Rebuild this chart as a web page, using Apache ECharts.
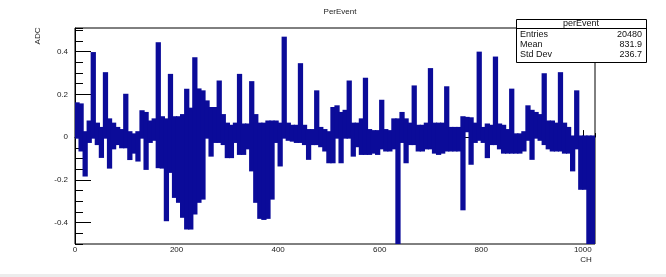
<!DOCTYPE html>
<html>
<head>
<meta charset="utf-8">
<script src="https://cdn.jsdelivr.net/npm/echarts@6/dist/echarts.min.js"></script>
<style>
html,body{margin:0;padding:0;background:#fff;}
#main{width:666px;height:277px;}
</style>
</head>
<body>
<div id="main"></div>
<script>
// histogram, grouped in bins of 8 CH (low / high edge of the drawn band)
var binWidth = 8;
var hiVals = [
	0.155, 0.15, 0.02, 0.07, 0.39, 0.06, 0.04, 0.296, 0.08, 0.06, 0.04, 0.03, 0.195, 0.02, 0.01, 0.02,
	0.118, 0.11, 0.07, 0.08, 0.436, 0.09, 0.08, 0.288, 0.09, 0.09, 0.1, 0.219, 0.13, 0.366, 0.22, 0.211,
	0.164, 0.133, 0.133, 0.257, 0.1, 0.06, 0.05, 0.06, 0.288, 0.056, 0.056, 0.254, 0.1, 0.06, 0.06, 0.07,
	0.07, 0.07, 0.06, 0.462, 0.06, 0.05, 0.05, 0.338, 0.05, 0.03, 0.03, 0.211, 0.04, 0.03, 0.02, 0.133,
	0.141, 0.11, 0.12, 0.257, 0.06, 0.06, 0.08, 0.27, 0.03, 0.025, 0.025, 0.167, 0.03, 0.025, 0.08, 0.08,
	0.11, 0.08, 0.06, 0.234, 0.05, 0.05, 0.06, 0.315, 0.06, 0.06, 0.06, 0.23, 0.04, 0.04, 0.04, 0.09,
	0.087, 0.085, 0.06, 0.392, 0.04, 0.056, 0.05, 0.369, 0.056, 0.05, 0.03, 0.219, 0.01, 0.01, 0.02, 0.141,
	0.12, 0.11, 0.1, 0.291, 0.07, 0.07, 0.06, 0.296, 0.06, 0.04, 0.0, 0.211, 0.0, 0.0, 0.0, 0.0
];
var loVals = [
	0.0, -0.06, -0.177, -0.02, 0.0, -0.03, -0.09, 0.0, -0.14, -0.05, -0.03, -0.045, -0.045, -0.1, -0.07, -0.107,
	0.0, -0.146, -0.02, -0.01, -0.138, -0.14, -0.386, -0.16, -0.277, -0.3, -0.37, -0.425, -0.425, -0.355, -0.3, -0.285,
	0.0, -0.084, -0.02, -0.02, -0.03, -0.091, -0.091, -0.02, -0.076, -0.076, -0.05, -0.153, -0.3, -0.375, -0.38, -0.375,
	-0.285, -0.02, -0.13, 0.0, -0.01, -0.014, -0.02, -0.02, -0.03, -0.099, -0.03, -0.03, -0.04, -0.06, -0.115, -0.115,
	0.0, -0.115, 0.0, 0.0, -0.084, -0.04, -0.076, -0.076, -0.076, -0.07, -0.076, -0.05, -0.06, -0.06, -0.05, -0.5,
	-0.02, -0.115, -0.03, -0.03, -0.06, -0.06, -0.05, -0.05, -0.07, -0.076, -0.07, -0.06, -0.06, -0.06, -0.06, -0.335,
	0.03, -0.122, -0.02, -0.01, -0.02, -0.091, -0.03, -0.03, -0.05, -0.07, -0.07, -0.07, -0.07, -0.07, -0.06, -0.01,
	-0.099, 0.0, -0.01, -0.03, -0.05, -0.06, -0.06, -0.06, -0.07, -0.07, -0.153, -0.05, -0.239, -0.239, -0.5, -0.5
];

var statNames = ['Entries', 'Mean', 'Std Dev'];
var statValues = ['20480', '831.9', '236.7'];

var histColor = '#0b0b99';
var fontName = '"Liberation Sans", Arial, sans-serif';

var myChart = echarts.init(document.getElementById('main'));

var histData = [];
for (var i = 0; i < hiVals.length; i++) {
	histData.push([i * binWidth, loVals[i], hiVals[i]]);
}

// every bin is a filled band from low to high, padded like a thick histogram line
function renderBin(params, api) {
	var p0 = api.coord([api.value(0), api.value(2)]);
	var p1 = api.coord([api.value(0) + binWidth, api.value(1)]);
	var rect = echarts.graphic.clipRectByRect({
		x: p0[0] - 0.6,
		y: p0[1] - 1.6,
		width: p1[0] - p0[0] + 1.2,
		height: p1[1] - p0[1] + 3.2
	}, params.coordSys);
	if (!rect) return;
	return {
		type: 'rect',
		shape: rect,
		style: { fill: histColor }
	};
}

// stats box rows
var statTexts = [];
for (var j = 0; j < statNames.length; j++) {
	statTexts.push({
		type: 'text', x: 520, y: 35 + j * 10,
		style: { text: statNames[j], fill: '#111', font: '9px ' + fontName, verticalAlign: 'middle' }
	});
	statTexts.push({
		type: 'text', x: 642, y: 35 + j * 10,
		style: { text: statValues[j], fill: '#111', font: '9px ' + fontName, align: 'right', verticalAlign: 'middle' }
	});
}

var labelStyle = { color: '#222', fontSize: 8, fontFamily: fontName };

var option = {
	animation: false,
	backgroundColor: '#fff',
	grid: {
		left: 75, right: 71, top: 28, bottom: 33,
		show: true,
		borderColor: '#000',
		borderWidth: 1
	},
	xAxis: [
		{
			type: 'value', min: 0, max: 1024, interval: 200, position: 'bottom',
			axisLine: { lineStyle: { color: '#000' } },
			axisTick: { inside: true, length: 7, lineStyle: { color: '#000' } },
			axisLabel: Object.assign({ margin: 2, showMaxLabel: false,
				formatter: function (v) { return String(v); } }, labelStyle),
			splitLine: { show: false }
		},
		{
			type: 'value', min: 0, max: 1024, interval: 50, position: 'bottom',
			axisLine: { show: false },
			axisTick: { inside: true, length: 4, lineStyle: { color: '#000' } },
			axisLabel: { show: false },
			splitLine: { show: false }
		}
	],
	yAxis: [
		{
			type: 'value', min: -0.5, max: 0.51, splitNumber: 5, position: 'left',
			axisLine: { show: true, lineStyle: { color: '#000' } },
			axisTick: { show: true, inside: true, length: 16, lineStyle: { color: '#000' } },
			axisLabel: Object.assign({ margin: 7, showMinLabel: false, showMaxLabel: false,
				formatter: function (v) { return Math.abs(v) < 1e-9 ? '0' : String(Math.round(v * 10) / 10); } }, labelStyle),
			splitLine: { show: false }
		},
		{
			type: 'value', min: -0.5, max: 0.51, interval: 0.05, position: 'left',
			axisLine: { show: false },
			axisTick: { show: true, inside: true, length: 8, lineStyle: { color: '#000' } },
			axisLabel: { show: false },
			splitLine: { show: false }
		}
	],
	series: [
		{
			type: 'custom',
			xAxisIndex: 0,
			yAxisIndex: 0,
			renderItem: renderBin,
			data: histData,
			encode: { x: 0, y: [1, 2] }
		}
	],
	graphic: [
		{
			type: 'text', x: 340, y: 12,
			style: { text: 'PerEvent', fill: '#222', font: '8px ' + fontName, align: 'center', verticalAlign: 'middle' }
		},
		{
			type: 'text', x: 38, y: 36, rotation: Math.PI / 2,
			style: { text: 'ADC', fill: '#222', font: '8px ' + fontName, align: 'center', verticalAlign: 'middle' }
		},
		{
			type: 'text', x: 586, y: 260,
			style: { text: 'CH', fill: '#222', font: '8px ' + fontName, align: 'center', verticalAlign: 'middle' }
		},
		{
			type: 'rect', shape: { x: 0, y: 274, width: 666, height: 3 },
			style: { fill: '#ececec' }
		},
		{
			type: 'group', z: 100,
			children: [
				{ type: 'rect', shape: { x: 516.5, y: 19.5, width: 130, height: 43 },
					style: { fill: '#fff', stroke: '#000', lineWidth: 1 } },
				{ type: 'line', shape: { x1: 516.5, y1: 28.5, x2: 646.5, y2: 28.5 },
					style: { stroke: '#000', lineWidth: 1 } },
				{ type: 'text', x: 581, y: 24,
					style: { text: 'perEvent', fill: '#111', font: '9px ' + fontName, align: 'center', verticalAlign: 'middle' } }
			].concat(statTexts)
		}
	]
};

myChart.setOption(option);
</script>
</body>
</html>
